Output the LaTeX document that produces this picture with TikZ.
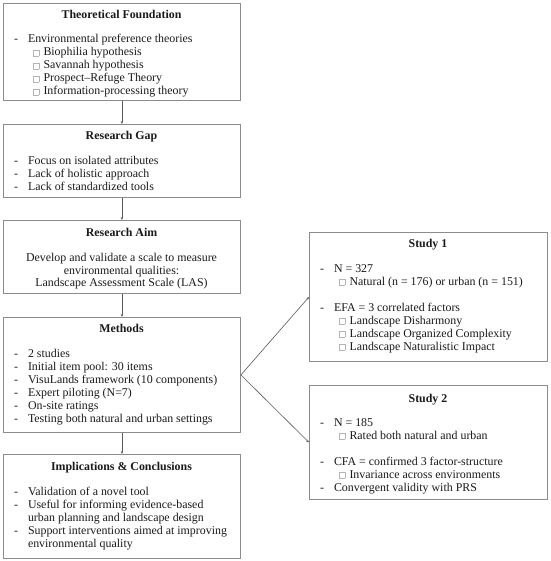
\documentclass[tikz,border=0pt]{standalone}
\usepackage{fontspec}
\setmainfont{Liberation Serif}
\usetikzlibrary{arrows.meta}
\definecolor{boxgray}{HTML}{8C8C8C}
\definecolor{linegray}{HTML}{5A5A5A}
\definecolor{txt}{HTML}{1A1A1A}
\definecolor{sqgray}{HTML}{B4B4B4}
\newcommand\sqglyph{\textcolor{sqgray}{\setlength\fboxsep{0pt}\setlength\fboxrule{0.5pt}\fbox{\rule{0pt}{5.5pt}\hspace{5pt}}}}
\newcommand\itm[4]{\node[txtl] (#1-d) at ({#2+11},#3) {-}; \node[txtl] (#1) at ({#2+25},#3) {#4};}
\newcommand\subitm[4]{\node[txtl] (#1-s) at ({#2+30},#3) {\sqglyph}; \node[txtl] (#1) at ({#2+40.5},#3) {#4};}
\newcommand\contitm[4]{\node[txtl] (#1) at ({#2+25},#3) {#4};}
\tikzset{
  box/.style={draw=boxgray, line width=0.9pt, inner sep=0pt, anchor=north west},
  lbox/.style={box, minimum width=237pt},
  rbox/.style={box, minimum width=238pt},
  txtl/.style={anchor=base west, inner sep=0pt, outer sep=0pt, font=\fontsize{11.9}{13}\selectfont, text=txt},
  ttl/.style={anchor=base, inner sep=0pt, outer sep=0pt, font=\fontsize{11.9}{13}\selectfont\bfseries, text=txt},
  ctr/.style={anchor=base, inner sep=0pt, outer sep=0pt, font=\fontsize{11.9}{13}\selectfont, text=txt},
  conn/.style={draw=linegray, line width=0.6pt, -{Stealth[length=3pt,width=2.4pt]}}
}
\begin{document}
\begin{tikzpicture}[x=1pt,y=-1pt]
\useasboundingbox[fill=white] (0,0) rectangle (550,561);
% boxes
\node[lbox, minimum height=97pt] (tf) at (3,3) {};
\node[lbox, minimum height=73pt] (gap) at (3,124) {};
\node[lbox, minimum height=73pt] (aim) at (3,220) {};
\node[lbox, minimum height=115pt] (meth) at (3,317) {};
\node[lbox, minimum height=104pt] (impl) at (3,454) {};
\node[rbox, minimum height=129pt] (s1) at (309,232) {};
\node[rbox, minimum height=114pt] (s2) at (309,385) {};
% Theoretical Foundation
\node[ttl] (tf-t) at (121.5,19) {Theoretical Foundation};
\itm{tf1}{3}{43}{Environmental preference theories}
\subitm{tf2}{3}{56}{Biophilia hypothesis}
\subitm{tf3}{3}{69}{Savannah hypothesis}
\subitm{tf4}{3}{82}{Prospect–Refuge Theory}
\subitm{tf5}{3}{95}{Information-processing theory}
% Research Gap
\node[ttl] (gap-t) at (121.5,140) {Research Gap};
\itm{gap1}{3}{165}{Focus on isolated attributes}
\itm{gap2}{3}{178}{Lack of holistic approach}
\itm{gap3}{3}{191}{Lack of standardized tools}
% Research Aim
\node[ttl] (aim-t) at (121.5,236) {Research Aim};
\node[ctr] (aim1) at (121.5,261.5) {Develop and validate a scale to measure};
\node[ctr] (aim2) at (121.5,274) {environmental qualities:};
\node[ctr] (aim3) at (121.5,286.5) {Landscape Assessment Scale (LAS)};
% Methods
\node[ttl] (meth-t) at (121.5,332) {Methods};
\itm{m1}{3}{357}{2 studies}
\itm{m2}{3}{370}{Initial item pool: 30 items}
\itm{m3}{3}{383}{VisuLands framework (10 components)}
\itm{m4}{3}{396}{Expert piloting (N=7)}
\itm{m5}{3}{409}{On-site ratings}
\itm{m6}{3}{422}{Testing both natural and urban settings}
% Implications
\node[ttl] (impl-t) at (121.5,470) {Implications \& Conclusions};
\itm{i1}{3}{495}{Validation of a novel tool}
\itm{i2}{3}{508}{Useful for informing evidence-based}
\contitm{i2b}{3}{521}{urban planning and landscape design}
\itm{i3}{3}{534}{Support interventions aimed at improving}
\contitm{i3b}{3}{547}{environmental quality}
% Study 1
\node[ttl] (s1-t) at (428,247) {Study 1};
\itm{s1a}{309}{272}{N = 327}
\subitm{s1b}{309}{285}{Natural (n = 176) or urban (n = 151)}
\itm{s1c}{309}{311}{EFA = 3 correlated factors}
\subitm{s1d}{309}{324}{Landscape Disharmony}
\subitm{s1e}{309}{337}{Landscape Organized Complexity}
\subitm{s1f}{309}{350}{Landscape Naturalistic Impact}
% Study 2
\node[ttl] (s2-t) at (428,402) {Study 2};
\itm{s2a}{309}{426}{N = 185}
\subitm{s2b}{309}{439}{Rated both natural and urban}
\itm{s2c}{309}{465}{CFA = confirmed 3 factor-structure}
\subitm{s2d}{309}{478}{Invariance across environments}
\itm{s2e}{309}{491}{Convergent validity with PRS}
% connectors
\draw[conn] (tf.south) -- (gap.north);
\draw[conn] (gap.south) -- (aim.north);
\draw[conn] (aim.south) -- (meth.north);
\draw[conn] (meth.south) -- (impl.north);
\draw[conn] (meth.east) -- (s1.west);
\draw[conn] (meth.east) -- (s2.west);
\end{tikzpicture}
\end{document}
